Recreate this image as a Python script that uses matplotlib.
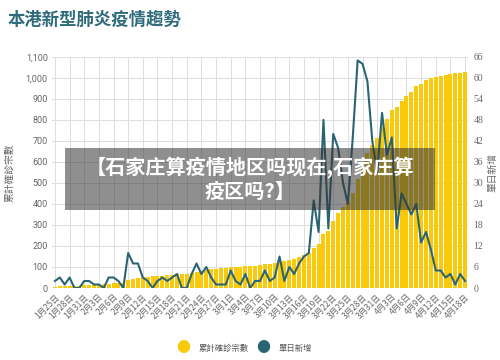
import matplotlib
matplotlib.use("Agg")
import matplotlib.pyplot as plt
import numpy as np

plt.rcParams["font.family"] = ["Noto Sans CJK TC", "DejaVu Sans"]

# Hong Kong cases, 25 Jan - 18 Apr (one value per day)
START_MONTH_DAYS = [(1, 25, 31), (2, 1, 29), (3, 1, 31), (4, 1, 18)]
dates = [f"{m}月{d}日" for m, d0, d1 in START_MONTH_DAYS for d in range(d0, d1 + 1)]

cumulative = [
    5, 8, 8, 8, 10, 10, 12,
    13, 14, 15, 17, 21, 24, 25, 26, 36, 42, 49, 50, 53, 56, 56, 57, 60, 62,
    65, 68, 69, 70, 74, 81, 84, 91, 92, 94, 95,
    100, 100, 101, 104, 105, 107, 108, 114, 115, 120, 126, 129, 131, 137, 148,
    157, 167, 192, 208, 256, 273, 317, 356, 386, 410, 453, 518, 582, 641, 682, 714,
    765, 802, 845, 862, 890, 914, 935, 960, 973, 989, 1000, 1004, 1009, 1012,
    1017, 1021, 1025, 1026,
]

daily_new = [
    2, 3, 1, 3, 0, 0, 2, 2, 1, 1, 0, 3, 3, 2, 0, 10, 7, 7, 3, 2,
    0, 2, 3, 2, 3, 4, 0, 0, 4, 7, 4, 6, 3, 1, 1, 1, 5, 2, 1, 4,
    0, 2, 2, 5, 2, 3, 9, 2, 6, 4, 7, 9, 10, 25, 16, 48, 17, 44, 40, 30,
    24, 43, 65, 64, 59, 42, 33, 50, 38, 43, 17, 27, 24, 21, 24, 13, 16, 11, 5, 5,
    3, 4, 1, 4, 2,
]

left_ticks = list(range(0, 1101, 100))
right_ticks = list(range(0, 67, 6))

YELLOW = "#F9CA0C"
TEAL = "#2B6574"
GRAY = "#666666"

fig = plt.figure(figsize=(5.0, 3.6), dpi=100)
ax = fig.add_axes([0.104, 0.2, 0.832, 0.642])
x = np.arange(len(dates))

ax.bar(x, cumulative, width=0.82, color=YELLOW, zorder=2)
ax.set_xlim(-0.6, len(dates) - 0.4)
ax.set_ylim(0, 1100)
ax.set_yticks(left_ticks)
ax.set_yticklabels([f"{v:,}" for v in left_ticks], fontsize=6.5, color=GRAY,
                   family=["Roboto", "DejaVu Sans"])
ax.set_xticks(x[::3])
ax.set_xticklabels(dates[::3], rotation=45, ha="right", rotation_mode="anchor",
                   fontsize=6, color=GRAY)
ax.tick_params(length=0, pad=3)
ax.grid(True, color="#dddddd", linewidth=0.7, zorder=0)
ax.set_axisbelow(True)
for s in ax.spines.values():
    s.set_visible(False)
ax.set_ylabel("累計確診宗數", fontsize=7, color=GRAY, labelpad=8)

ax2 = ax.twinx()
ax2.plot(x, daily_new, color=TEAL, linewidth=1.5, zorder=3)
ax2.set_ylim(0, 66)
ax2.set_yticks(right_ticks)
ax2.set_yticklabels([str(v) for v in right_ticks], fontsize=7, color=GRAY,
                    family=["Liberation Serif", "DejaVu Serif"])
ax2.tick_params(length=0, pad=4)
for s in ax2.spines.values():
    s.set_visible(False)
ax2.set_ylabel("單日新增", fontsize=7, color=GRAY, labelpad=3)

fig.text(0.016, 0.945, "本港新型肺炎疫情趨勢", fontsize=12.5, fontweight="bold",
         color="#2F6B7B", ha="left", va="center")

# legend at the bottom
fig.text(0.366, 0.033, "●", fontsize=10, color=YELLOW, ha="center", va="center")
fig.text(0.398, 0.033, "累計確診宗數", fontsize=6, color="#555555", ha="left", va="center")
fig.text(0.526, 0.033, "●", fontsize=10, color=TEAL, ha="center", va="center")
fig.text(0.558, 0.033, "單日新增", fontsize=6, color="#555555", ha="left", va="center")

# overlay banner
fig.patches.append(plt.Rectangle((0.13, 0.417), 0.74, 0.172, transform=fig.transFigure,
                                 facecolor="#333333", alpha=0.55, edgecolor="none",
                                 zorder=5))
fig.text(0.5, 0.503, "【石家庄算疫情地区吗现在,石家庄算\n疫区吗?】", fontsize=14.5,
         fontweight="bold", color="white", ha="center", va="center",
         linespacing=1.2, family=["Noto Sans CJK SC", "DejaVu Sans"], zorder=6)

fig.savefig("out.png", dpi=100)
